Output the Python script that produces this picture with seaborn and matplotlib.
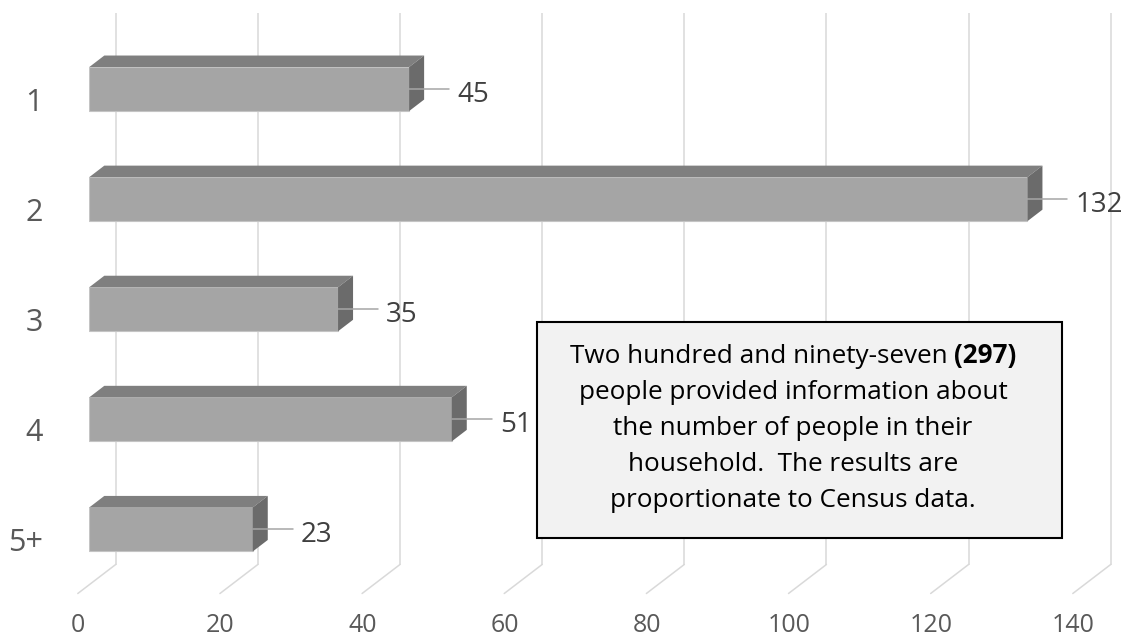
import matplotlib
matplotlib.use('Agg')
import matplotlib.pyplot as plt
from matplotlib.patches import Polygon, Rectangle
import seaborn as sns
import pandas as pd

# data
categories = ['1', '2', '3', '4', '5+']
counts = [45, 132, 35, 51, 23]
x_ticks = [0, 20, 40, 60, 80, 100, 120, 140]
note_first = 'Two hundred and ninety-seven'
note_bold = '(297)'
note_rest = ['people provided information about',
             'the number of people in their',
             'household.  The results are',
             'proportionate to Census data.']

sns.set_theme(style='white')
plt.rcParams['font.family'] = ['Open Sans', 'DejaVu Sans']

W, H = 1129, 639
fig = plt.figure(figsize=(W / 100, H / 100), dpi=100)
fig.patch.set_facecolor('white')

# plot area: x 0..140 on the front plane of the bars, one row per category
ax = fig.add_axes([89.3 / W, (H - 584.5) / H, 995 / W, 550.5 / H])
px_x = 995 / 140      # pixels per x unit
px_y = 550.5 / 5      # pixels per category row


def dxu(px):
    return px / px_x


def dyu(px):
    return px / px_y


def yd(py):
    # pixel row (from top) -> data y
    return (py - 34.5) / px_y - 0.5


df = pd.DataFrame({'size': categories, 'count': counts})
bar_h = 0.4
sns.barplot(data=df, x='count', y='size', orient='h', color='#A5A5A5',
            saturation=1, width=bar_h, edgecolor='#C4C4C4', linewidth=0.8,
            ax=ax, zorder=2)
ax.set_xlim(0, 140)
ax.set_ylim(4.5, -0.5)
ax.axis('off')

# back wall gridlines + floor lines
grid_c = '#D9D9D9'
for t in x_ticks:
    xb = t + dxu(26.4)
    ax.plot([xb, xb], [yd(14), yd(565)], color=grid_c, lw=1.1, zorder=0.5,
            clip_on=False, solid_capstyle='butt')
    ax.plot([xb, t + dxu(-11.5)], [yd(565), yd(594)], color=grid_c, lw=1.1,
            zorder=0.5, clip_on=False)
    ax.text(t + dxu(-11), yd(632), str(t), ha='center', va='baseline',
            fontsize=18, color='#595959')

# 3d faces, leaders and labels
ox, oy = dxu(15), dyu(11.5)
for i, (cat, v) in enumerate(zip(categories, counts)):
    top, bot = i - bar_h / 2, i + bar_h / 2
    ax.add_patch(Polygon([(0, top), (v, top), (v + ox, top - oy), (ox, top - oy)],
                         closed=True, fc='#7F7F7F', ec='none', zorder=2,
                         clip_on=False))
    ax.add_patch(Polygon([(v, top), (v, bot), (v + ox, bot - oy), (v + ox, top - oy)],
                         closed=True, fc='#6B6B6B', ec='none', zorder=2,
                         clip_on=False))
    ax.plot([v, v + dxu(40)], [i, i], color='#A6A6A6', lw=1.1, zorder=4,
            clip_on=False)
    ax.text(v + dxu(48), i + dyu(12.6), str(v), ha='left', va='baseline',
            fontsize=20, color='#404040', clip_on=False)
    ax.text(dxu(43 - 89.3), i + dyu(21.5), cat, ha='right', va='baseline',
            fontsize=22, color='#595959', clip_on=False)

# note box
box = Rectangle((537.3 / W, 1 - 538 / H), (1062 - 537.3) / W, (538 - 322) / H,
                transform=fig.transFigure, fc='#F2F2F2', ec='black', lw=1.5,
                zorder=5)
fig.add_artist(box)

fs = 18.8
cx = 793
renderer = fig.canvas.get_renderer()
t1 = fig.text(0, 0, note_first, fontsize=fs, color='black', zorder=6)
t2 = fig.text(0, 0, note_bold, fontsize=fs, fontweight='bold', color='black',
              zorder=6)
sp = fig.text(0, 0, 'a a', fontsize=fs)
nsp = fig.text(0, 0, 'aa', fontsize=fs)
w1 = t1.get_window_extent(renderer).width
w2 = t2.get_window_extent(renderer).width
ws = sp.get_window_extent(renderer).width - nsp.get_window_extent(renderer).width
sp.remove()
nsp.remove()
x0 = cx - (w1 + ws + w2) / 2
t1.set_position((x0 / W, 1 - 363 / H))
t1.set_va('baseline')
t2.set_position(((x0 + w1 + ws) / W, 1 - 363 / H))
t2.set_va('baseline')
for k, line in enumerate(note_rest):
    fig.text(cx / W, 1 - (363 + 36 * (k + 1)) / H, line, fontsize=fs,
             ha='center', va='baseline', color='black', zorder=6)

fig.savefig('out.png', dpi=100)
